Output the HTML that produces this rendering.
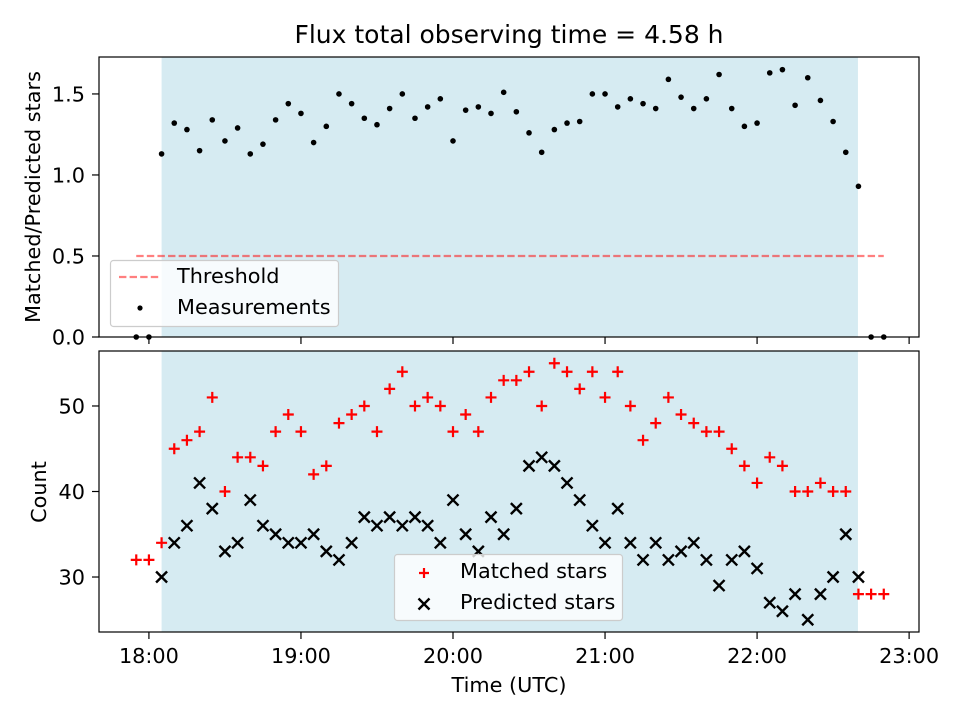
<!DOCTYPE html>
<html><head><meta charset="utf-8"><style>
body{margin:0;background:#fff;font-family:"Liberation Sans","DejaVu Sans",sans-serif}
svg text{font-family:"DejaVu Sans","Liberation Sans",sans-serif;fill:#000}
</style></head><body>
<svg id="c" width="960" height="720" viewBox="0 0 960 720" xmlns="http://www.w3.org/2000/svg"></svg>
<script>
const startMin = 17*60+55; // first sample time (minutes)
const stepMin = 5;
const ratios = [0,0,1.13,1.32,1.28,1.15,1.34,1.21,1.29,1.13,1.19,1.34,1.44,1.38,1.20,1.30,1.50,1.44,1.35,1.31,1.41,1.50,1.35,1.42,1.47,1.21,1.40,1.42,1.38,1.51,1.39,1.26,1.14,1.28,1.32,1.33,1.50,1.50,1.42,1.47,1.44,1.41,1.59,1.48,1.41,1.47,1.62,1.41,1.30,1.32,1.63,1.65,1.43,1.60,1.46,1.33,1.14,0.93,0,0];
const matched = [32,32,34,45,46,47,51,40,44,44,43,47,49,47,42,43,48,49,50,47,52,54,50,51,50,47,49,47,51,53,53,54,50,55,54,52,54,51,54,50,46,48,51,49,48,47,47,45,43,41,44,43,40,40,41,40,40,28,28,28];
const predicted = [null,null,30,34,36,41,38,33,34,39,36,35,34,34,35,33,32,34,37,36,37,36,37,36,34,39,35,33,37,35,38,43,44,43,41,39,36,34,38,34,32,34,32,33,34,32,29,32,33,31,27,26,28,25,28,30,35,30];
const xTickLabels = ["18:00","19:00","20:00","21:00","22:00","23:00"];
const topYTicks = [0.0,0.5,1.0,1.5];
const botYTicks = [30,40,50];
const threshold = 0.5;
const obsStartMin = 18*60+5;
const obsHours = 4.58;

const NS="http://www.w3.org/2000/svg";
const svg=document.getElementById('c');
function mk(tag,attrs,parent){const e=document.createElementNS(NS,tag);for(const k in attrs)e.setAttribute(k,attrs[k]);(parent||svg).appendChild(e);return e;}
const L=99,R=919;
const xMin=17*60+40.3,xMax=23*60+3.9;
const X=m=>L+(m-xMin)/(xMax-xMin)*(R-L);
const T={top:57,bot:337,min:0,max:1.728};
const B={top:351,bot:632,min:23.57,max:56.43};
const Y=(p,v)=>p.bot-(v-p.min)/(p.max-p.min)*(p.bot-p.top);
const tm=i=>startMin+i*stepMin;
const FS=20.8;

let t=mk('text',{x:509,y:43,'font-size':'25','text-anchor':'middle'});


t.textContent='Flux total observing time = '+obsHours.toFixed(2)+' h';

function panel(p,name){
  const g=mk('g',{});
  
  
  const sh=mk('rect',{x:X(obsStartMin),y:p.top,width:X(obsStartMin+obsHours*60)-X(obsStartMin),height:p.bot-p.top,fill:'#add8e6','fill-opacity':0.5},g);
  
  
  return g;
}
function frame(p,g){
  const f=mk('rect',{x:L,y:p.top,width:R-L,height:p.bot-p.top,fill:'none',stroke:'#000','stroke-width':1.2},g);
  
  
  for(let h=18;h<=23;h++){
    const x=X(h*60);
    const tk=mk('line',{x1:x,x2:x,y1:p.bot,y2:p.bot+7,stroke:'#000','stroke-width':1.2},g);
    
    
  }
}
function yticks(p,g,ticks,fmt){
  ticks.forEach(v=>{
    const y=Y(p,v);
    const tk=mk('line',{x1:L-7,x2:L,y1:y,y2:y,stroke:'#000','stroke-width':1.2},g);
    
    
    const lb=mk('text',{x:L-14,y:y+7.5,'font-size':FS,'text-anchor':'end'},g);
    
    
    lb.textContent=fmt(v);
  });
}

const gt=panel(T,'ratio-panel');
const th=mk('line',{x1:X(tm(0)),x2:X(tm(ratios.length-1)),y1:Y(T,threshold),y2:Y(T,threshold),stroke:'#ff0000','stroke-opacity':0.5,'stroke-width':2.2,'stroke-dasharray':'7.4,3.2'},gt);


ratios.forEach((v,i)=>{
  const c=mk('circle',{cx:X(tm(i)),cy:Y(T,v),r:2.8,fill:'#000'},gt);
  
  
});
frame(T,gt);
yticks(T,gt,topYTicks,v=>v.toFixed(1));
let yl=mk('text',{x:0,y:0,'font-size':FS,'text-anchor':'middle',transform:'translate(40,197) rotate(-90)'},gt);


yl.textContent='Matched/Predicted stars';
const lg1=mk('g',{},gt);


mk('rect',{x:110.5,y:260.5,width:228,height:66,rx:3,fill:'#fff','fill-opacity':0.8,stroke:'#ccc','stroke-width':1.2},lg1);
mk('line',{x1:119,x2:161,y1:277,y2:277,stroke:'#ff0000','stroke-opacity':0.5,'stroke-width':2.2,'stroke-dasharray':'7.4,3.2'},lg1);
mk('circle',{cx:140,cy:308,r:2.6,fill:'#000'},lg1);
let a=mk('text',{x:177,y:283,'font-size':FS},lg1);a.textContent='Threshold';

a=mk('text',{x:177,y:314,'font-size':FS},lg1);a.textContent='Measurements';


const gb=panel(B,'count-panel');
matched.forEach((v,i)=>{
  if(v==null)return;
  const x=X(tm(i)),y=Y(B,v);
  const p=mk('path',{d:`M${x-5.5},${y}H${x+5.5}M${x},${y-5.5}V${y+5.5}`,stroke:'#ff0000','stroke-width':2.2},gb);
  
  
});
predicted.forEach((v,i)=>{
  if(v==null)return;
  const x=X(tm(i)),y=Y(B,v);
  const p=mk('path',{d:`M${x-5.5},${y-5.5}L${x+5.5},${y+5.5}M${x-5.5},${y+5.5}L${x+5.5},${y-5.5}`,stroke:'#000','stroke-width':2.4},gb);
  
  
});
frame(B,gb);
yticks(B,gb,botYTicks,v=>String(v));
xTickLabels.forEach((s,k)=>{
  const lb=mk('text',{x:X((18+k)*60),y:B.bot+31,'font-size':FS,'text-anchor':'middle'},gb);
  
  
  lb.textContent=s;
});
yl=mk('text',{x:0,y:0,'font-size':FS,'text-anchor':'middle',transform:'translate(46,492) rotate(-90)'},gb);


yl.textContent='Count';
let xl=mk('text',{x:509,y:692,'font-size':FS,'text-anchor':'middle'},gb);


xl.textContent='Time (UTC)';
const lg2=mk('g',{},gb);


mk('rect',{x:394.5,y:554.5,width:228,height:66,rx:3,fill:'#fff','fill-opacity':0.8,stroke:'#ccc','stroke-width':1.2},lg2);
mk('path',{d:'M419,573H429M424,568V578',stroke:'#ff0000','stroke-width':2.2},lg2);
mk('path',{d:'M418.5,598.5L429.5,609.5M418.5,609.5L429.5,598.5',stroke:'#000','stroke-width':2.4},lg2);
a=mk('text',{x:460,y:578,'font-size':FS},lg2);a.textContent='Matched stars';

a=mk('text',{x:460,y:609,'font-size':FS},lg2);a.textContent='Predicted stars';

</script>
</body></html>
